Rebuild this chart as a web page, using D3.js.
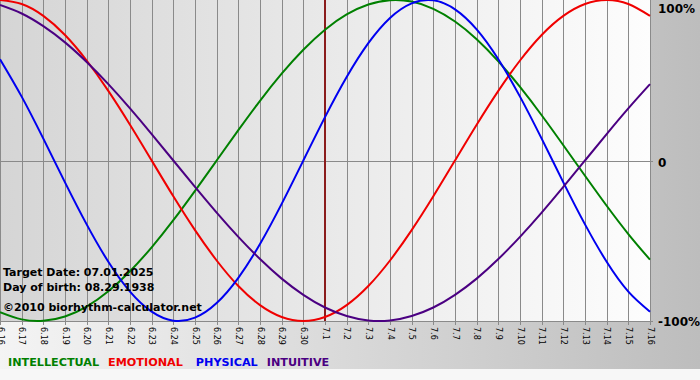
<!DOCTYPE html>
<html>
<head>
<meta charset="utf-8">
<script src="https://cdn.jsdelivr.net/npm/d3@7"></script>
<style>
  body { margin: 0; background: #f7f7f7; }
  svg { display: block; font-family: "DejaVu Sans", Verdana, sans-serif; }
</style>
</head>
<body>
<svg id="chart" width="700" height="380"></svg>
<script>

// days shown on the x axis (month.day)
var days = ["6.16","6.17","6.18","6.19","6.20","6.21","6.22","6.23","6.24","6.25","6.26","6.27","6.28","6.29","6.30",
            "7.1","7.2","7.3","7.4","7.5","7.6","7.7","7.8","7.9","7.10","7.11","7.12","7.13","7.14","7.15","7.16"];

// cycle values per day, -1..1
var intellectual = [-0.945,-0.990,-0.999,-0.972,-0.910,-0.815,-0.690,-0.541,-0.372,-0.189,0.000,0.189,0.372,0.541,0.690,
                    0.815,0.910,0.972,0.999,0.990,0.945,0.866,0.756,0.618,0.458,0.282,0.095,-0.095,-0.282,-0.458,-0.618];
var emotional    = [1.000,0.975,0.901,0.782,0.623,0.434,0.223,0.000,-0.223,-0.434,-0.623,-0.782,-0.901,-0.975,-1.000,
                    -0.975,-0.901,-0.782,-0.623,-0.434,-0.223,0.000,0.223,0.434,0.623,0.782,0.901,0.975,1.000,0.975,0.901];
var physical     = [0.631,0.398,0.136,-0.136,-0.398,-0.631,-0.817,-0.942,-0.998,-0.979,-0.888,-0.731,-0.520,-0.270,0.000,
                    0.270,0.520,0.731,0.888,0.979,0.998,0.942,0.817,0.631,0.398,0.136,-0.136,-0.398,-0.631,-0.817,-0.942];
var intuitive    = [0.969,0.916,0.837,0.736,0.614,0.476,0.325,0.165,0.000,-0.165,-0.325,-0.476,-0.614,-0.736,-0.837,
                    -0.916,-0.969,-0.997,-0.997,-0.969,-0.916,-0.837,-0.736,-0.614,-0.476,-0.325,-0.165,0.000,0.165,0.325,0.476];

var targetDay = "7.1";
var yTicks = [-1, 0, 1];
var yTickLabels = ["-100%", "0", "100%"];

var series = [
  {name: "INTELLECTUAL", values: intellectual, color: "#008000"},
  {name: "EMOTIONAL",    values: emotional,    color: "#f00000"},
  {name: "PHYSICAL",     values: physical,     color: "#0000f0"},
  {name: "INTUITIVE",    values: intuitive,    color: "#4b0082"}
];

var svg = d3.select("#chart"),
    width = 650,
    height = 321;

var defs = svg.append("defs");

var outerGrad = defs.append("linearGradient").attr("id", "outerGrad");
outerGrad.append("stop").attr("offset", "0%").attr("stop-color", "#f4f4f4");
outerGrad.append("stop").attr("offset", "100%").attr("stop-color", "#bdbdbd");

var plotGrad = defs.append("linearGradient").attr("id", "plotGrad");
plotGrad.append("stop").attr("offset", "0%").attr("stop-color", "#d5d5d5");
plotGrad.append("stop").attr("offset", "100%").attr("stop-color", "#fdfdfd");

svg.append("rect")
    .attr("width", 700).attr("height", 369)
    .attr("fill", "url(#outerGrad)");

svg.append("rect")
    .attr("width", width).attr("height", height)
    .attr("fill", "url(#plotGrad)");

var x = d3.scalePoint()
    .domain(days)
    .range([0, width]);

var y = d3.scaleLinear()
    .domain([-1, 1])
    .range([height, 0]);

// vertical grid, ticks and rotated day labels
var xAxis = svg.append("g")
    .call(d3.axisBottom(x).tickSize(height + 4).tickPadding(0));

xAxis.select(".domain").remove();
xAxis.selectAll(".tick line")
    .attr("stroke", "#8a8a8a")
    .attr("shape-rendering", "crispEdges");
xAxis.selectAll(".tick text")
    .attr("transform", "rotate(90)")
    .attr("x", height + 6)
    .attr("y", 0)
    .attr("dy", "0.35em")
    .attr("text-anchor", "start")
    .attr("font-size", 8)
    .attr("font-family", "DejaVu Sans, sans-serif")
    .attr("fill", "#000");

// zero line and bottom line
svg.append("line")
    .attr("x1", 0).attr("x2", width + 3)
    .attr("y1", Math.round(y(0)) + 0.5).attr("y2", Math.round(y(0)) + 0.5)
    .attr("stroke", "#8a8a8a");

svg.append("line")
    .attr("x1", 0).attr("x2", width + 3)
    .attr("y1", y(-1) + 0.5).attr("y2", y(-1) + 0.5)
    .attr("stroke", "#8a8a8a");

// right side percent labels
var yAxis = svg.append("g")
    .attr("transform", "translate(" + width + ",0)")
    .call(d3.axisRight(y).tickValues(yTicks).tickSize(0)
      .tickFormat(function(d, i) { return yTickLabels[i]; }));

yAxis.select(".domain").remove();
yAxis.selectAll(".tick text")
    .attr("x", 8)
    .attr("font-size", 12)
    .attr("font-weight", "bold")
    .attr("font-family", "DejaVu Sans, sans-serif")
    .attr("fill", "#000")
    .attr("dy", function(d) { return d === 1 ? "1.05em" : d === 0 ? "0.5em" : "0.4em"; });

// target date marker
svg.append("line")
    .attr("x1", x(targetDay)).attr("x2", x(targetDay))
    .attr("y1", 0).attr("y2", height)
    .attr("stroke", "#8b1c1c")
    .attr("stroke-width", 2);

var line = d3.line()
    .x(function(d, i) { return x(days[i]); })
    .y(function(d) { return y(d); })
    .curve(d3.curveNatural);

svg.selectAll(".cycle")
    .data(series)
  .enter().append("path")
    .attr("class", "cycle")
    .attr("fill", "none")
    .attr("stroke", function(d) { return d.color; })
    .attr("stroke-width", 2)
    .attr("d", function(d) { return line(d.values); });

// info text
var info = svg.append("g")
    .attr("font-size", 11)
    .attr("font-weight", "bold")
    .attr("fill", "#000");

info.append("text").attr("x", 3).attr("y", 276).text("Target Date: 07.01.2025");
info.append("text").attr("x", 3).attr("y", 291).text("Day of birth: 08.29.1938");
info.append("text").attr("x", 3).attr("y", 311).text("\u00a92010 biorhythm-calculator.net");

// legend
var legend = svg.append("text")
    .attr("x", 8)
    .attr("y", 366)
    .attr("font-size", 11.2)
    .attr("font-weight", "bold");

legend.selectAll("tspan")
    .data(series)
  .enter().append("tspan")
    .attr("fill", function(d) { return d.color; })
    .attr("dx", function(d, i) { return i === 0 ? 0 : i === 2 ? 13 : 9; })
    .text(function(d) { return d.name; });

</script>
</body>
</html>
